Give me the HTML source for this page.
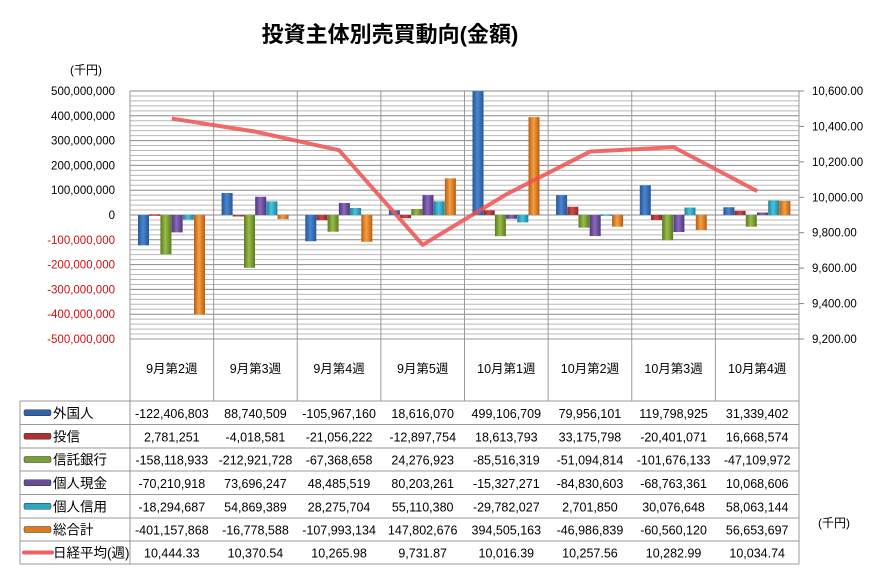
<!DOCTYPE html>
<html><head><meta charset="utf-8">
<style>
body{margin:0;background:#fff;width:891px;height:578px;overflow:hidden;font-family:"Liberation Sans","Noto Sans CJK JP",sans-serif;}
svg text{font-family:"Liberation Sans","Noto Sans CJK JP",sans-serif;}
</style></head><body>
<svg id="s" width="891" height="578" xmlns="http://www.w3.org/2000/svg">
<defs>
<linearGradient id="g0" x1="0" x2="1"><stop offset="0" stop-color="#24569a"/><stop offset="0.45" stop-color="#4a86cf"/><stop offset="1" stop-color="#24569a"/></linearGradient>
<linearGradient id="g1" x1="0" x2="1"><stop offset="0" stop-color="#8f2727"/><stop offset="0.45" stop-color="#cc4a4a"/><stop offset="1" stop-color="#8f2727"/></linearGradient>
<linearGradient id="g2" x1="0" x2="1"><stop offset="0" stop-color="#5a7a20"/><stop offset="0.45" stop-color="#98bc48"/><stop offset="1" stop-color="#5a7a20"/></linearGradient>
<linearGradient id="g3" x1="0" x2="1"><stop offset="0" stop-color="#4e3480"/><stop offset="0.45" stop-color="#8a6ab8"/><stop offset="1" stop-color="#4e3480"/></linearGradient>
<linearGradient id="g4" x1="0" x2="1"><stop offset="0" stop-color="#1a839b"/><stop offset="0.45" stop-color="#4ac4dd"/><stop offset="1" stop-color="#1a839b"/></linearGradient>
<linearGradient id="g5" x1="0" x2="1"><stop offset="0" stop-color="#b85c12"/><stop offset="0.45" stop-color="#f5a040"/><stop offset="1" stop-color="#b85c12"/></linearGradient>
</defs>
</svg>
<script>
const s=document.getElementById('s');
let h='';
const L=130,R=799,T=91,Z=215,B=339;
const cw=(R-L)/8;
h+='<text x="390" y="42" font-size="22" font-weight="bold" text-anchor="middle" fill="#000">投資主体別売買動向(金額)</text>';
h+='<text x="70" y="74" font-size="12">(千円)</text>';
h+='<text x="818" y="527" font-size="12">(千円)</text>';
for(let i=0;i<=50;i++){const y=T+i*(B-T)/50;h+=`<line x1="${L}" x2="${R}" y1="${y}" y2="${y}" stroke="${i%5==0?'#888':'#b8b8b8'}" stroke-width="1"/>`;}
for(let i=0;i<=8;i++){const x=L+i*cw;h+=`<line x1="${x}" x2="${x}" y1="${T}" y2="${i==0||i==8?564:401}" stroke="#999"/>`;}
for(let i=0;i<=7;i++){const y=T+i*(B-T)/7;h+=`<line x1="${R}" x2="${R+5}" y1="${y}" y2="${y}" stroke="#888"/>`;
 const v=(10600-200*i).toLocaleString('en-US',{minimumFractionDigits:2});h+=`<text x="812" y="${y+4}" font-size="11.5">${v}</text>`;}
for(let i=0;i<=10;i++){const y=T+i*(B-T)/10;const v=500-100*i;const t=v==0?'0':(v*1000000).toLocaleString('en-US');
 h+=`<text x="115" y="${y+4}" font-size="11.5" text-anchor="end" fill="${v<0?'#d01010':'#000'}">${t}</text>`;}
const D=[
[-122406803,88740509,-105967160,18616070,499106709,79956101,119798925,31339402],
[2781251,-4018581,-21056222,-12897754,18613793,33175798,-20401071,16668574],
[-158118933,-212921728,-67368658,24276923,-85516319,-51094814,-101676133,-47109972],
[-70210918,73696247,48485519,80203261,-15327271,-84830603,-68763361,10068606],
[-18294687,54869389,28275704,55110380,-29782027,2701850,30076648,58063144],
[-401157868,-16778588,-107993134,147802676,394505163,-46986839,-60560120,56653697]];
const N=[10444.33,10370.54,10265.98,9731.87,10016.39,10257.56,10282.99,10034.74];
const sc=(Z-T)/500e6;
for(let s2=0;s2<6;s2++)for(let g=0;g<8;g++){const v=D[s2][g];const x=L+g*cw+8+s2*11.2;let hh=Math.abs(v)*sc;let y=v>=0?Z-hh:Z;if(y<T){hh-=T-y;y=T;}
 h+=`<rect x="${x.toFixed(1)}" y="${y}" width="11" height="${Math.max(hh,1.5)}" fill="url(#g${s2})"/>`;}
let p=N.map((v,i)=>`${L+cw*(i+0.5)},${T+(10600-v)*(B-T)/1400}`).join(' ');
h+=`<polyline points="${p}" fill="none" stroke="#f05050" stroke-opacity="0.85" stroke-width="4" stroke-linejoin="round"/>`;
const names=['外国人','投信','信託銀行','個人現金','個人信用','総合計','日経平均(週)'];
const cols=['#2f62a8','#b03030','#78a030','#6a4a9a','#2aa8c4','#e07a1a','#f06060'];
const hdr=['9月第2週','9月第3週','9月第4週','9月第5週','10月第1週','10月第2週','10月第3週','10月第4週'];
hdr.forEach((t,i)=>h+=`<text x="${L+cw*(i+0.5)}" y="373" font-size="12.5" text-anchor="middle">${t}</text>`);
const rt=[401,424.5,448,471,494.5,518,541,564];
rt.forEach(y=>h+=`<line x1="20" x2="${R}" y1="${y}" y2="${y}" stroke="#999"/>`);
h+=`<line x1="${L}" x2="${R}" y1="339" y2="339" stroke="#999"/>`;
h+=`<line x1="20" x2="20" y1="401" y2="564" stroke="#999"/>`;
for(let r=0;r<7;r++){const yc=(rt[r]+rt[r+1])/2;
 if(r<6)h+=`<rect x="24" y="${yc-3}" width="27" height="6" rx="1.5" fill="${cols[r]}" stroke="#333" stroke-width="0.5"/>`;
 else h+=`<line x1="24" x2="52" y1="${yc}" y2="${yc}" stroke="${cols[r]}" stroke-width="4" stroke-linecap="round"/>`;
 h+=`<text x="53" y="${yc+5}" font-size="13.5">${names[r]}</text>`;
 for(let g=0;g<8;g++){const t=r<6?D[r][g].toLocaleString('en-US'):N[g].toLocaleString('en-US',{minimumFractionDigits:2});
  h+=`<text x="${L+cw*(g+0.5)}" y="${yc+5}" font-size="12.5" text-anchor="middle">${t}</text>`;}}
s.insertAdjacentHTML('beforeend',h);
</script>
</body></html>
